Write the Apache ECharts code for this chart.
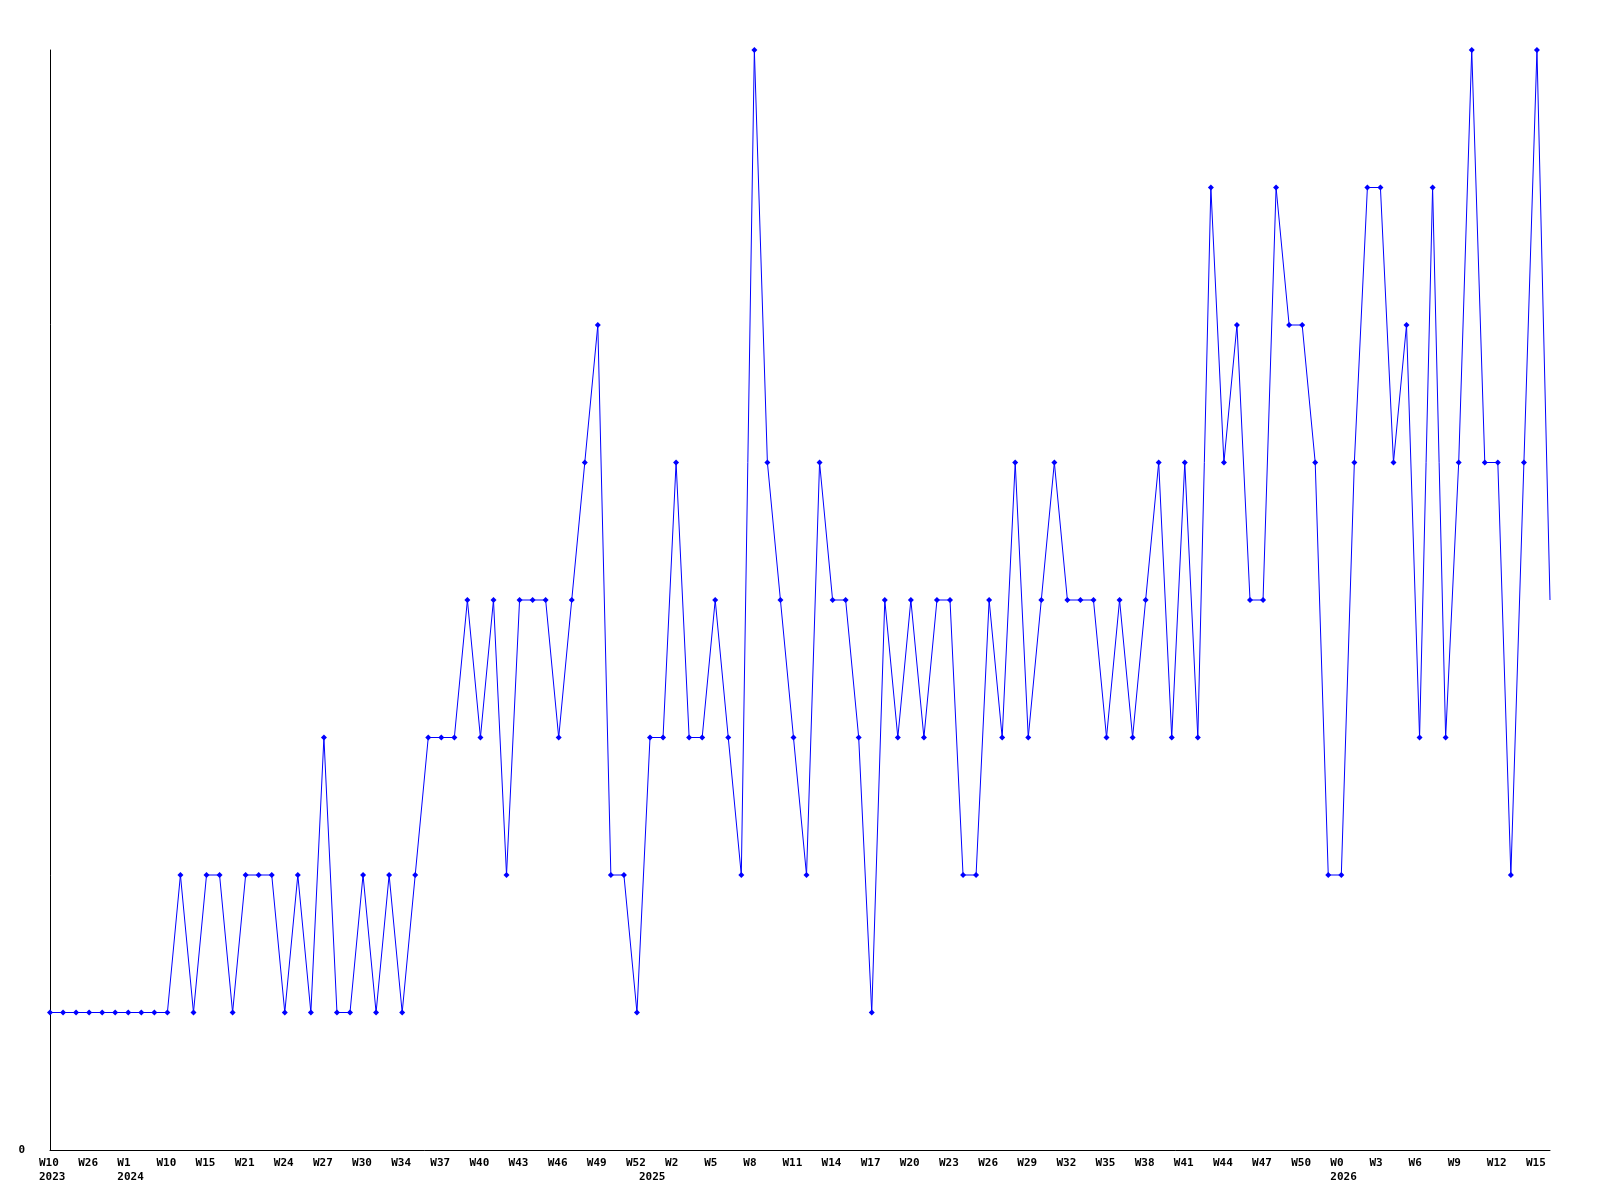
<!DOCTYPE html>
<html>
<head>
<meta charset="utf-8">
<style>
  html, body { margin: 0; padding: 0; background: #ffffff; }
  #chart { width: 1600px; height: 1200px; }
</style>
<script src="https://cdn.jsdelivr.net/npm/echarts@6/dist/echarts.min.js"></script>
</head>
<body>
<div id="chart"></div>
<script>
// Week categories (year, week label). Only every third one is labelled on the axis.
const years = [
  2023,2023,2023,2023,2023,2023,
  2024,2024,2024,2024,2024,2024,2024,2024,2024,2024,2024,2024,2024,2024,
  2024,2024,2024,2024,2024,2024,2024,2024,2024,2024,2024,2024,2024,2024,
  2024,2024,2024,2024,2024,2024,2024,2024,2024,2024,2024,2024,
  2025,2025,2025,2025,2025,2025,2025,2025,2025,2025,2025,2025,2025,2025,
  2025,2025,2025,2025,2025,2025,2025,2025,2025,2025,2025,2025,2025,2025,
  2025,2025,2025,2025,2025,2025,2025,2025,2025,2025,2025,2025,2025,2025,
  2025,2025,2025,2025,2025,2025,2025,2025,2025,2025,2025,
  2026,2026,2026,2026,2026,2026,2026,2026,2026,2026,2026,2026,2026,2026,
  2026,2026,2026
];
const weeks = [
  'W10','W14','W20','W26','W35','W45',
  'W1','W4','W7','W10','W12','W13','W15','W17','W19','W21','W22','W23','W24','W25',
  'W26','W27','W28','W29','W30','W32','W33','W34','W35','W36','W37','W38','W39','W40',
  'W41','W42','W43','W44','W45','W46','W47','W48','W49','W50','W51','W52',
  'W0','W1','W2','W3','W4','W5','W6','W7','W8','W9','W10','W11','W12','W13',
  'W14','W15','W16','W17','W18','W19','W20','W21','W22','W23','W24','W25','W26','W27',
  'W28','W29','W30','W31','W32','W33','W34','W35','W36','W37','W38','W39','W40','W41',
  'W42','W43','W44','W45','W46','W47','W48','W49','W50','W51','W52',
  'W0','W1','W2','W3','W4','W5','W6','W7','W8','W9','W10','W11','W12','W13',
  'W14','W15','W16'
];
const categories = weeks.map((w, i) => years[i] + '-' + w);

const values = [
  1,1,1,1,1,1,1,1,1,1,
  2,1,2,2,1,2,2,2,1,2,
  1,3,1,1,2,1,2,1,2,3,
  3,3,4,3,4,2,4,4,4,3,
  4,5,6,2,2,1,3,3,5,3,
  3,4,3,2,8,5,4,3,2,5,
  4,4,3,1,4,3,4,3,4,4,
  2,2,4,3,5,3,4,5,4,4,
  4,3,4,3,4,5,3,5,3,7,
  5,6,4,4,7,6,6,5,2,2,
  5,7,7,5,6,3,7,3,5,8,
  5,5,2,5,8,4
];

const yTickLabels = ['0'];

const chart = echarts.init(document.getElementById('chart'));
const lastIdx = values.length - 1;

chart.setOption({
  backgroundColor: '#ffffff',
  animation: false,
  grid: { left: 50, right: 50, top: 50, bottom: 50, containLabel: false },
  xAxis: {
    type: 'category',
    data: categories,
    boundaryGap: false,
    axisLine: { show: true, lineStyle: { color: '#000000', width: 1 } },
    axisTick: { show: false },
    splitLine: { show: false },
    axisLabel: {
      interval: 0,
      margin: 6,
      hideOverlap: false,
      align: 'center',
      formatter: function (val, i) {
        const showWeek = i % 3 === 0;
        const showYear = i === 0 || years[i] !== years[i - 1];
        if (!showWeek && !showYear) return '';
        const top = showWeek ? weeks[i] : ' ';
        const bottom = showYear ? String(years[i]) : ' ';
        return '{a|' + top + '}\n{a|' + bottom + '}';
      },
      rich: {
        a: {
          width: 22,
          align: 'left',
          fontFamily: 'DejaVu Sans Mono',
          fontWeight: 'bold',
          fontSize: 11,
          lineHeight: 14,
          color: '#000000'
        }
      }
    }
  },
  yAxis: {
    type: 'value',
    min: 0,
    max: 8,
    interval: 1,
    axisLine: { show: true, lineStyle: { color: '#000000', width: 1 } },
    axisTick: { show: false },
    splitLine: { show: false },
    axisLabel: {
      margin: 25,
      fontFamily: 'DejaVu Sans Mono',
      fontWeight: 'bold',
      fontSize: 11,
      color: '#000000',
      formatter: function (v) {
        return yTickLabels.indexOf(String(v)) >= 0 ? String(v) : '';
      }
    }
  },
  series: [{
    type: 'line',
    data: values,
    symbol: 'diamond',
    symbolSize: function (v, p) { return p.dataIndex === lastIdx ? 0 : 6; },
    showAllSymbol: true,
    lineStyle: { color: '#0000ff', width: 1 },
    itemStyle: { color: '#0000ff', borderWidth: 0 },
    emphasis: { disabled: true }
  }]
});
</script>
</body>
</html>
